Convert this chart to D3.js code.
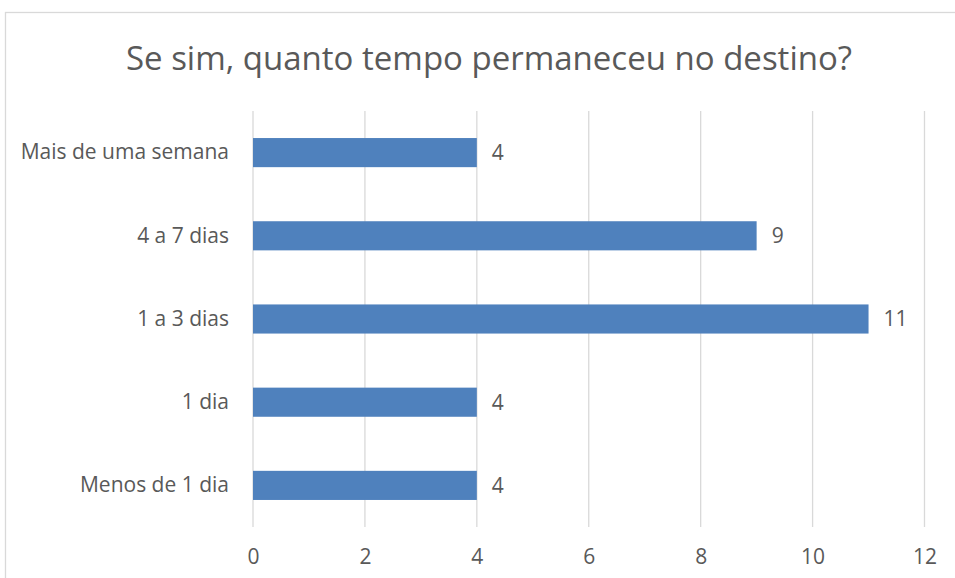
<!DOCTYPE html>
<html>
<head>
<meta charset="utf-8">
<script src="https://cdn.jsdelivr.net/npm/d3@7"></script>
<style>
  body { margin: 0; background: #fff; }
  text { font-family: "Open Sans", "Noto Sans", sans-serif; fill: #595959; }
</style>
</head>
<body>
<div class="chart"></div>
<script>
var categories = ["Mais de uma semana", "4 a 7 dias", "1 a 3 dias", "1 dia", "Menos de 1 dia"];
var values = [4, 9, 11, 4, 4];
var xTicks = [0, 2, 4, 6, 8, 10, 12];
var title = "Se sim, quanto tempo permaneceu no destino?";

var svgWidth = 955;
var svgHeight = 578;

var margin = { top: 111, right: 30, bottom: 51, left: 253 };
var width = 924.5 - margin.left;
var height = 527 - margin.top;

var svg = d3.select(".chart")
    .append("svg")
    .attr("width", svgWidth)
    .attr("height", svgHeight);

// chart frame
svg.append("rect")
    .attr("x", 5.5)
    .attr("y", 12.5)
    .attr("width", 1000)
    .attr("height", 700)
    .attr("fill", "none")
    .attr("stroke", "#d9d9d9")
    .attr("stroke-width", 1.3);

svg.append("text")
    .attr("x", 489)
    .attr("y", 70)
    .attr("text-anchor", "middle")
    .attr("font-size", "33px")
    .text(title);

var chartGroup = svg.append("g")
    .attr("transform", `translate(${margin.left}, ${margin.top})`);

var xScale = d3.scaleLinear()
    .domain([0, 12])
    .range([0, width]);

var yScale = d3.scaleBand()
    .domain(categories)
    .range([0, height])
    .paddingInner(0.65)
    .paddingOuter(0.325);

// gridlines
chartGroup.append("g")
    .selectAll("line")
    .data(xTicks)
    .enter()
    .append("line")
    .attr("x1", d => xScale(d))
    .attr("x2", d => xScale(d))
    .attr("y1", 0)
    .attr("y2", height)
    .attr("stroke", "#d9d9d9")
    .attr("stroke-width", 1.3);

var bottomAxis = d3.axisBottom(xScale)
    .tickValues(xTicks)
    .tickSize(0)
    .tickPadding(22);

var xAxis = chartGroup.append("g")
    .attr("transform", `translate(0, ${height})`)
    .call(bottomAxis);
xAxis.select(".domain").remove();

var leftAxis = d3.axisLeft(yScale)
    .tickSize(0)
    .tickPadding(24);

var yAxis = chartGroup.append("g")
    .call(leftAxis);
yAxis.select(".domain").remove();

svg.selectAll("g")
    .attr("font-family", null)
    .attr("font-size", null);
svg.selectAll(".tick text")
    .attr("fill", null)
    .attr("font-size", "21px");

chartGroup.selectAll("rect.bar")
    .data(values)
    .enter()
    .append("rect")
    .attr("class", "bar")
    .attr("x", xScale(0))
    .attr("y", (d, i) => yScale(categories[i]))
    .attr("width", d => xScale(d) - xScale(0))
    .attr("height", yScale.bandwidth())
    .attr("fill", "#4f81bd");

chartGroup.selectAll("text.value")
    .data(values)
    .enter()
    .append("text")
    .attr("class", "value")
    .attr("x", d => xScale(d) + 15)
    .attr("y", (d, i) => yScale(categories[i]) + yScale.bandwidth() / 2)
    .attr("dy", "0.35em")
    .attr("font-size", "21px")
    .text(d => d);
</script>
</body>
</html>
